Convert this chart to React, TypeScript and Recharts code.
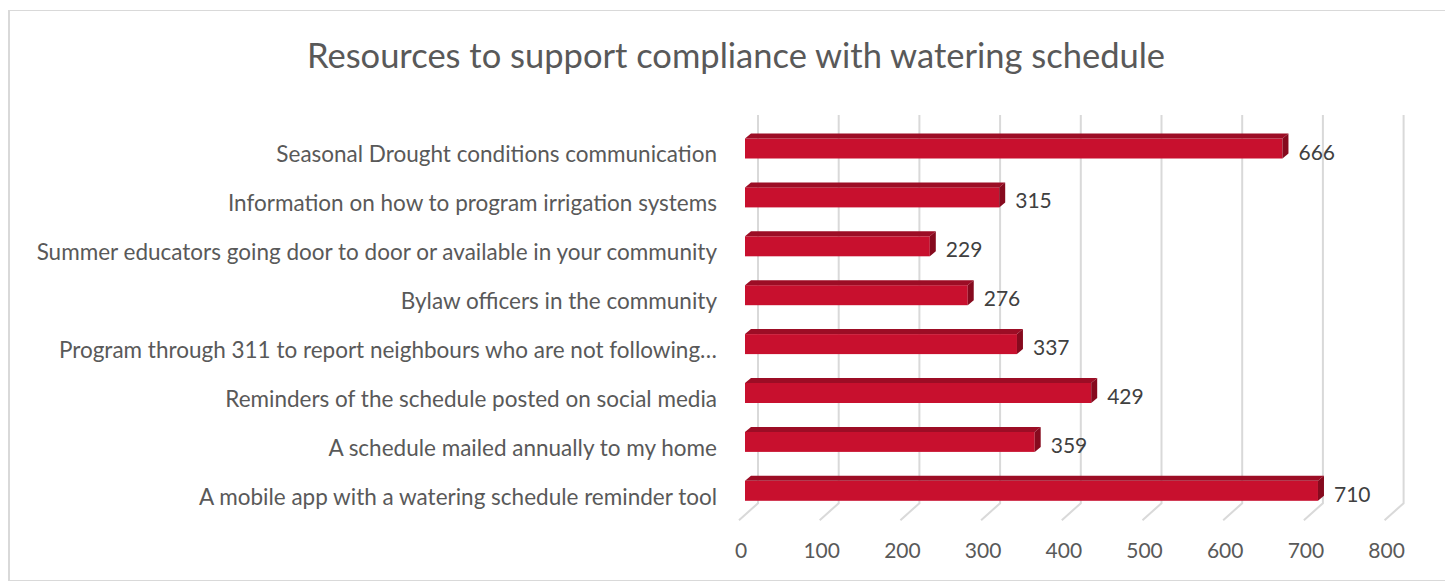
import { BarChart, Bar, XAxis, YAxis, CartesianGrid, LabelList } from 'recharts'

// categories top to bottom, as shown in the chart
const categories = [
  'Seasonal Drought conditions communication',
  'Information on how to program irrigation systems',
  'Summer educators going door to door or available in your community',
  'Bylaw officers in the community',
  'Program through 311 to report neighbours who are not following…',
  'Reminders of the schedule posted on social media',
  'A schedule mailed annually to my home',
  'A mobile app with a watering schedule reminder tool',
]
const responses = [666, 315, 229, 276, 337, 429, 359, 710]
const xTicks = [0, 100, 200, 300, 400, 500, 600, 700, 800]

const data = categories.map((name, i) => ({ name, value: responses[i] }))

const FONT = 'Lato, "Open Sans", sans-serif'
const DX = 6 // 3d depth
const DY = 5

function Bar3D(props: any) {
  const { x, y, width, height } = props
  if (width == null || width <= 0) return null
  return (
    <g>
      <rect x={x} y={y} width={width} height={height} fill="#c8102e" />
      <polygon
        points={`${x},${y} ${x + DX},${y - DY} ${x + width + DX},${y - DY} ${x + width},${y}`}
        fill="#9c0d25"
      />
      <polygon
        points={`${x + width},${y} ${x + width + DX},${y - DY} ${x + width + DX},${y + height - DY} ${x + width},${y + height}`}
        fill="#860a1e"
      />
    </g>
  )
}

function gridLine(props: any) {
  const { x1, y1, y2, key } = props
  const bx = x1 + 13
  return (
    <polyline
      key={key}
      points={`${bx},${y1 - 9.5} ${bx},${y2 - 12.5} ${x1 - 6},${y2 + 4.5}`}
      fill="none"
      stroke="#d9d9d9"
      strokeWidth={2}
    />
  )
}

function XTick(props: any) {
  const { x, payload } = props
  return (
    <text x={x - 4} y={538} textAnchor="middle" dominantBaseline="central" fill="#595959" fontSize={21} fontFamily={FONT}>
      {payload.value}
    </text>
  )
}

function YTick(props: any) {
  const { y, payload } = props
  return (
    <text x={707} y={y + 5} textAnchor="end" dominantBaseline="central" fill="#595959" fontSize={22.5} fontFamily={FONT}>
      {payload.value}
    </text>
  )
}

function ValueLabel(props: any) {
  const { x, y, width, height, value } = props
  return (
    <text x={x + width + DX + 10} y={y + height / 2 + 2.5} dominantBaseline="central" fill="#404040" fontSize={21} fontFamily={FONT}>
      {value}
    </text>
  )
}

export default function App() {
  return (
    <div
      style={{
        position: 'relative',
        marginTop: 2,
        width: 1443,
        height: 569,
        border: '1px solid #d9d9d9',
        borderLeftWidth: 2,
        background: '#fff',
      }}
    >
      <div
        style={{
          position: 'absolute',
          top: 23,
          left: 0,
          width: 1452,
          textAlign: 'center',
          fontFamily: FONT,
          fontSize: 34.5,
          color: '#595959',
        }}
      >
        Resources to support compliance with watering schedule
      </div>
      <BarChart
        width={1443}
        height={569}
        data={data}
        layout="vertical"
        barSize={20}
        margin={{ top: 113.5, right: 62.4, bottom: 24.3, left: 0 }}
      >
        <CartesianGrid vertical={gridLine} horizontal={false} />
        <XAxis
          type="number"
          domain={[0, 800]}
          ticks={xTicks}
          axisLine={false}
          tickLine={false}
          tick={<XTick />}
          height={40}
        />
        <YAxis
          type="category"
          dataKey="name"
          width={735}
          axisLine={false}
          tickLine={false}
          tick={<YTick />}
          interval={0}
        />
        <Bar dataKey="value" shape={<Bar3D />} isAnimationActive={false}>
          <LabelList dataKey="value" content={<ValueLabel />} />
        </Bar>
      </BarChart>
    </div>
  )
}
